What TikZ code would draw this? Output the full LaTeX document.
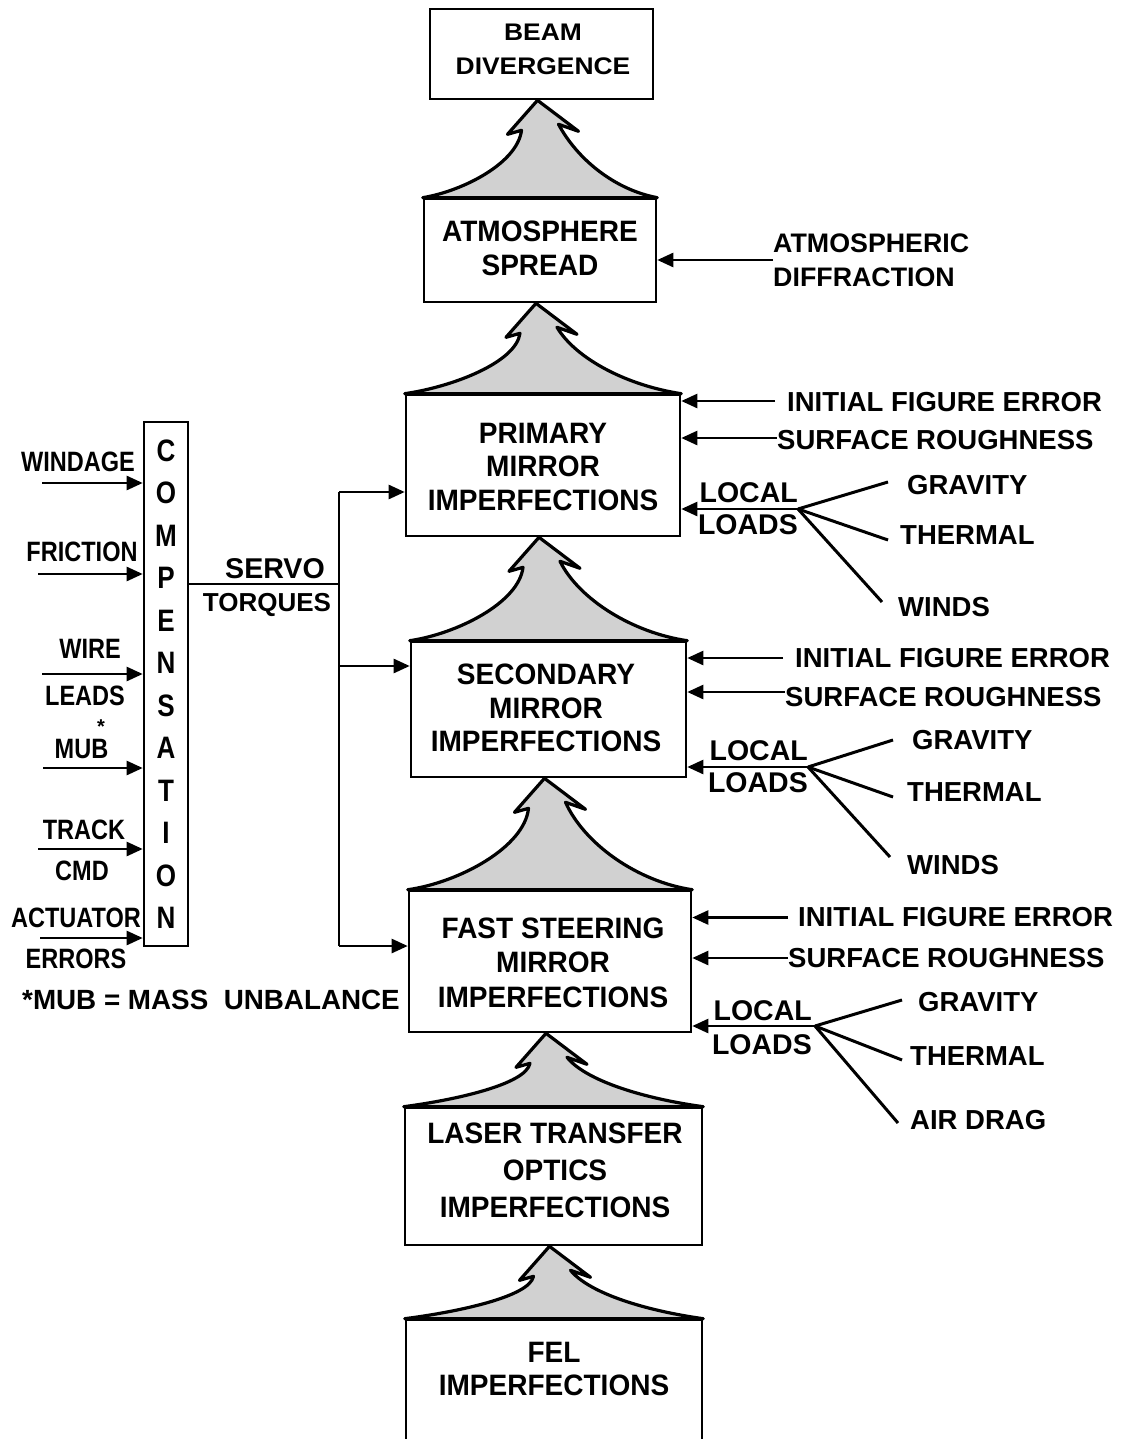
\documentclass[tikz,border=0pt]{standalone}
\usepackage{fontspec}
\setmainfont{Liberation Sans}
\newfontfamily\fA{Liberation Sans Bold}
\newfontfamily\fB{Liberation Sans Bold}[FakeStretch=0.95]
\newfontfamily\fN{Liberation Sans Bold}[FakeStretch=0.84]
\newfontfamily\fW{Liberation Sans Bold}[FakeStretch=1.1]
\usetikzlibrary{arrows.meta,calc}

\tikzset{
  frame/.style={draw, line width=2.6pt, inner sep=0pt, rectangle},
  boxtext/.style={align=center, inner sep=0pt, font=\fB\fontsize{29.5}{33.5}\selectfont},
  lab/.style={inner sep=0pt, font=\fA\fontsize{27.5}{34}\selectfont},
  loadlab/.style={inner sep=0pt, anchor=east, font=\fA\fontsize{28.5}{34}\selectfont},
  leftlab/.style={inner sep=0pt, font=\fN\fontsize{28}{30}\selectfont},
  arr/.style={line width=2.5pt, -{Triangle[length=16pt,width=14pt]}},
  fan/.style={line width=3pt},
  bus/.style={line width=2.3pt},
  tree/.style={line width=3.2pt, fill=black!18, line join=round},
}

% spiky "tree" arrow rising from the top of box #1 to the bottom of box #2
\newcommand\treelink[2]{%
  \draw[tree] let \p1=($(#2.south)+(-4pt,0pt)$), \p2=(#1.north west), \p3=(#1.north east) in
    (\p1) -- (\x1-30pt,\y1-34pt) -- (\x1-16pt,\y1-30pt)
    .. controls (\x1-20pt,{\y1-30pt-0.48*(\y1-30pt-\y2)}) and ({\x1-16pt+0.58*(\x2-\x1+16pt)},\y2+7pt) .. (\p2)
    -- (\p3)
    .. controls ({\x1+21pt+0.57*(\x3-\x1-21pt)},\y3+8pt) and (\x1+40pt,{\y1-24pt-0.48*(\y1-24pt-\y3)}) .. (\x1+21pt,\y1-24pt)
    -- (\x1+41pt,\y1-31pt) -- cycle;}

\begin{document}
\begin{tikzpicture}[x=1pt,y=-1pt]
\fill[white] (0,0) rectangle (1130,1439);
\useasboundingbox (0,0) rectangle (1130,1439);

% main chain of boxes
\node[frame, minimum width=223, minimum height=90]  (beam)  at (541.5,54)    {};
\node[frame, minimum width=232, minimum height=103] (atmos) at (540,250.5)   {};
\node[frame, minimum width=274, minimum height=141] (prim)  at (543,465.5)   {};
\node[frame, minimum width=275, minimum height=135] (sec)   at (548.5,709.5) {};
\node[frame, minimum width=282, minimum height=141] (fsm)   at (550,961.5)   {};
\node[frame, minimum width=297, minimum height=137] (laser) at (553.5,1176.5){};
\node[frame, minimum width=296, minimum height=150] (fel)   at (554,1395)    {};

\treelink{atmos}{beam}
\treelink{prim}{atmos}
\treelink{sec}{prim}
\treelink{fsm}{sec}
\treelink{laser}{fsm}
\treelink{fel}{laser}

\node[boxtext, font=\fW\fontsize{24}{34}\selectfont] (beamtxt) at (543,49) {BEAM\\DIVERGENCE};
\node[boxtext] (atmostxt) at (540,248.5) {ATMOSPHERE\\SPREAD};
\node[boxtext] (primtxt)  at (543,466.5) {PRIMARY\\MIRROR\\IMPERFECTIONS};
\node[boxtext] (sectxt)   at (546,708)   {SECONDARY\\MIRROR\\IMPERFECTIONS};
\node[boxtext, font=\fB\fontsize{29.5}{34.5}\selectfont] (fsmtxt) at (553,962.5) {FAST STEERING\\MIRROR\\IMPERFECTIONS};
\node[boxtext, font=\fB\fontsize{29.5}{37}\selectfont] (lasertxt) at (555,1170) {LASER TRANSFER\\OPTICS\\IMPERFECTIONS};
\node[boxtext] (feltxt) at (554,1369) {FEL\\IMPERFECTIONS};

% atmospheric input
\node[lab, font=\fA\fontsize{26.8}{34}\selectfont, align=left, anchor=west] (adiff) at (773,260) {ATMOSPHERIC\\DIFFRACTION};
\draw[arr] (adiff.west) -- (adiff.west -| atmos.east);

% primary mirror inputs
\node[lab, anchor=west] (ife1) at (787,402.5) {INITIAL FIGURE ERROR};
\node[lab, anchor=west] (sr1)  at (777,440)   {SURFACE ROUGHNESS};
\draw[arr] ([xshift=-12pt,yshift=1.5pt]ife1.west) -- ([yshift=1.5pt]ife1.west -| prim.east);
\draw[arr] ([yshift=2pt]sr1.west) -- ([yshift=2pt]sr1.west -| prim.east);
\coordinate (j1) at (798,509);
\node[loadlab] (loc1) at (798,492.5) {LOCAL};
\node[loadlab] (lds1) at (798,525)   {LOADS};
\draw[arr] (j1) -- (j1 -| prim.east);
\node[lab, anchor=west] (grav1)  at (907,485)   {GRAVITY};
\node[lab, anchor=west] (therm1) at (900,535)   {THERMAL};
\node[lab, anchor=west] (wind1)  at (898,607.5) {WINDS};
\draw[fan] (j1) -- ([xshift=-19pt,yshift=3pt]grav1.west);
\draw[fan] (j1) -- ([xshift=-12pt,yshift=-5pt]therm1.west);
\draw[fan] (j1) -- ([xshift=-16pt,yshift=5.5pt]wind1.west);

% secondary mirror inputs
\node[lab, anchor=west] (ife2) at (795,658) {INITIAL FIGURE ERROR};
\node[lab, anchor=west] (sr2)  at (785,697) {SURFACE ROUGHNESS};
\draw[arr] ([xshift=-12pt]ife2.west) -- (ife2.west -| sec.east);
\draw[arr] ([yshift=5pt]sr2.west) -- ([yshift=5pt]sr2.west -| sec.east);
\coordinate (j2) at (808,767);
\node[loadlab] (loc2) at (808,750.5) {LOCAL};
\node[loadlab] (lds2) at (808,783)   {LOADS};
\draw[arr] (j2) -- (j2 -| sec.east);
\node[lab, anchor=west] (grav2)  at (912,740)   {GRAVITY};
\node[lab, anchor=west] (therm2) at (907,792)   {THERMAL};
\node[lab, anchor=west] (wind2)  at (907,865)   {WINDS};
\draw[fan] (j2) -- ([xshift=-19pt,yshift=0pt]grav2.west);
\draw[fan] (j2) -- ([xshift=-14pt,yshift=-5pt]therm2.west);
\draw[fan] (j2) -- ([xshift=-17pt,yshift=8pt]wind2.west);

% fast steering mirror inputs
\node[lab, anchor=west] (ife3) at (798,917.5) {INITIAL FIGURE ERROR};
\node[lab, anchor=west] (sr3)  at (788,958)   {SURFACE ROUGHNESS};
\draw[arr] ([xshift=-10pt]ife3.west) -- (ife3.west -| fsm.east);
\draw[arr] (sr3.west) -- (sr3.west -| fsm.east);
\coordinate (j3) at (815,1026);
\node[loadlab] (loc3) at (812,1011) {LOCAL};
\node[loadlab] (lds3) at (812,1045) {LOADS};
\draw[arr] (j3) -- (j3 -| fsm.east);
\node[lab, anchor=west] (grav3)  at (918,1002.5) {GRAVITY};
\node[lab, anchor=west] (therm3) at (910,1056)   {THERMAL};
\node[lab, anchor=west] (air3)   at (910,1120)   {AIR DRAG};
\draw[fan] (j3) -- ([xshift=-16pt,yshift=2.5pt]grav3.west);
\draw[fan] (j3) -- ([xshift=-8pt,yshift=-4pt]therm3.west);
\draw[fan] (j3) -- ([xshift=-12pt,yshift=-3pt]air3.west);

% compensation column and its disturbance inputs
\node[frame, minimum width=44, minimum height=524, align=center,
      font=\fN\fontsize{31}{42.5}\selectfont] (comp) at (166,684)
  {C\\O\\M\\P\\E\\N\\S\\A\\T\\I\\O\\N};

\node[leftlab] (windage) at (78,461.5) {WINDAGE};
\coordinate (windin) at (42,483);
\draw[arr] (windin) -- (windin -| comp.west);

\node[leftlab] (friction) at (82,552) {FRICTION};
\coordinate (fricin) at (38,574);
\draw[arr] (fricin) -- (fricin -| comp.west);

\node[leftlab] (wire)  at (90,649) {WIRE};
\node[leftlab] (leads) at (85,696) {LEADS};
\coordinate (wirein) at (42,674);
\draw[arr] (wirein) -- (wirein -| comp.west);

\node[leftlab, font=\fA\fontsize{20}{20}\selectfont] (star) at (101,727) {*};
\node[leftlab] (mub) at (81.5,749) {MUB};
\coordinate (mubin) at (43,768);
\draw[arr] (mubin) -- (mubin -| comp.west);

\node[leftlab] (track) at (84,830) {TRACK};
\node[leftlab] (cmd)   at (82,871) {CMD};
\coordinate (trackin) at (38,849);
\draw[arr] (trackin) -- (trackin -| comp.west);

\node[leftlab] (actuator) at (76,918) {ACTUATOR};
\node[leftlab] (errors)   at (76,959) {ERRORS};
\coordinate (actin) at (40,938);
\draw[arr] (actin) -- (actin -| comp.west);

\node[lab, anchor=west, font=\fA\fontsize{27.8}{30}\selectfont] (mubnote) at (22,1000) {*MUB = MASS\ \ UNBALANCE};

% servo torques bus
\node[lab, font=\fA\fontsize{28.6}{30}\selectfont] (servo) at (275,569) {SERVO};
\node[lab, font=\fA\fontsize{26}{30}\selectfont]   (torq)  at (267,605) {TORQUES};
\coordinate (bus)    at (339,584);
\coordinate (bustop) at (339,492);
\coordinate (busmid) at (339,666);
\coordinate (busbot) at (339,946);
\draw[bus] (comp.east |- bus) -- (bus);
\draw[bus] (bustop) -- (busbot);
\draw[arr] (bustop) -- (bustop -| prim.west);
\draw[arr] (busmid) -- (busmid -| sec.west);
\draw[arr] (busbot) -- (busbot -| fsm.west);
\end{tikzpicture}
\end{document}
